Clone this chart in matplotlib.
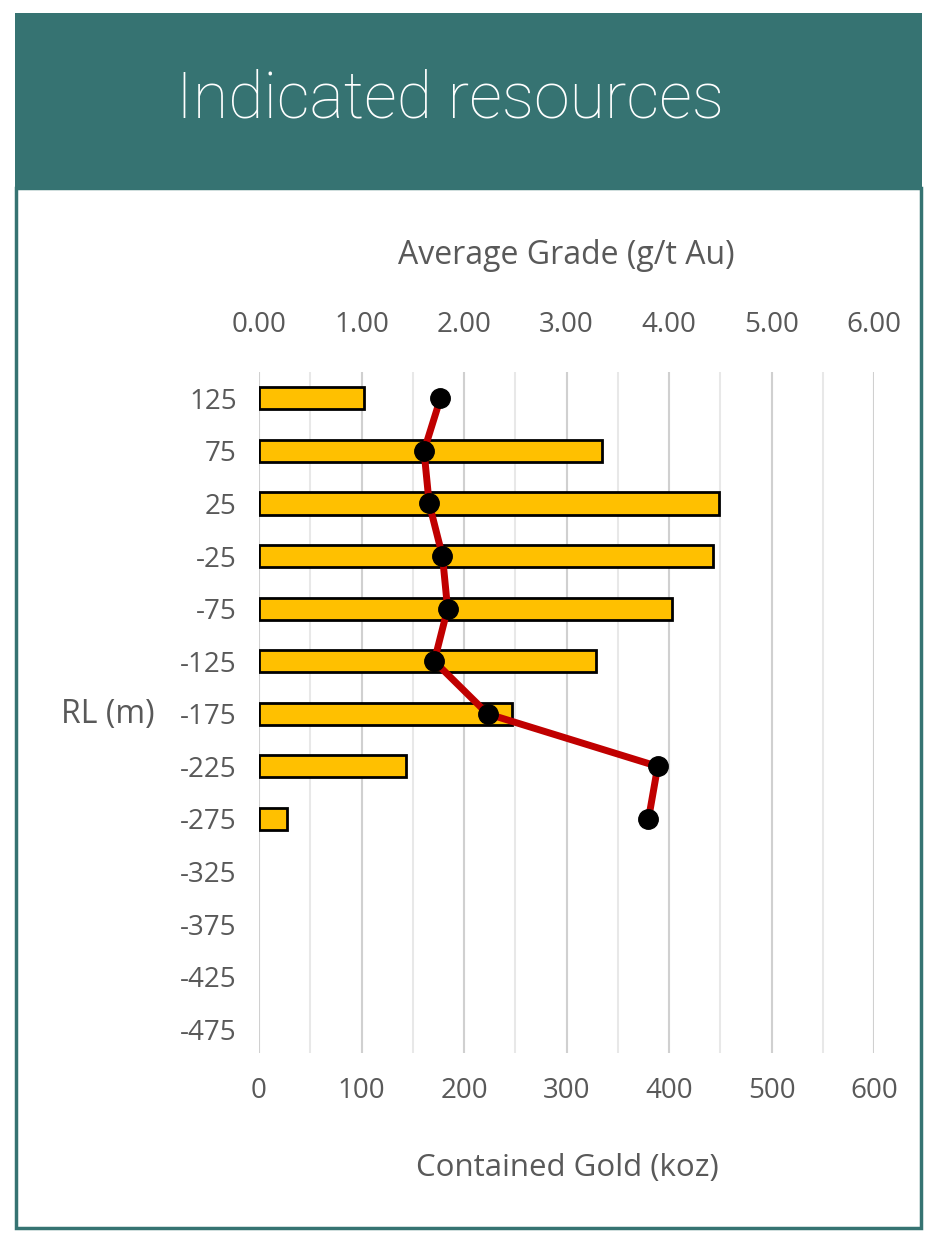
import matplotlib
matplotlib.use("Agg")
import matplotlib.pyplot as plt
from matplotlib.patches import Rectangle
import numpy as np

rl_labels = ["125", "75", "25", "-25", "-75", "-125", "-175", "-225", "-275",
             "-325", "-375", "-425", "-475"]
gold_koz = [102, 335, 449, 443, 403, 329, 247, 143, 27, np.nan, np.nan, np.nan, np.nan]
grade_gt = [1.77, 1.61, 1.66, 1.79, 1.84, 1.71, 2.23, 3.89, 3.80]
gold_ticks = [0, 100, 200, 300, 400, 500, 600]
grade_ticks = [0, 1, 2, 3, 4, 5, 6]

W, H = 927, 1233
fig = plt.figure(figsize=(W / 100, H / 100), dpi=100)
fig.patch.set_facecolor("white")

teal = "#367372"
txt = "#595959"
font = ["Open Sans", "DejaVu Sans"]

# header
fig.patches.append(Rectangle((15 / W, 1 - 188 / H), (922 - 15) / W, (188 - 13) / H,
                             transform=fig.transFigure, facecolor=teal, edgecolor="none", zorder=0))
# body box
fig.patches.append(Rectangle((16 / W, 1 - 1228 / H), (921 - 16) / W, (1228 - 188) / H,
                             transform=fig.transFigure, facecolor="white", edgecolor=teal,
                             linewidth=2.5, zorder=0))
fig.text(450 / W, 1 - 100 / H, "Indicated resources", color="white", fontsize=46.5,
         family=["Roboto", "DejaVu Sans"], fontweight="light", ha="center", va="center")

ax = fig.add_axes([259 / W, 1 - 1053 / H, (874 - 259) / W, (1053 - 372) / H])
ax.set_facecolor("none")
ax.set_zorder(2)
y = np.arange(len(rl_labels))

# grid lines
for v in range(0, 601, 50):
    c = "#d0d0d0" if v % 100 == 0 else "#e8e8e8"
    ax.axvline(v, color=c, linewidth=1.5, zorder=0)

ax.barh(y, gold_koz, height=0.42, color="#FFC000", edgecolor="black", linewidth=2, zorder=2)
ax.set_xlim(0, 600)
ax.set_ylim(12.45, -0.5)
ax.set_yticks(y)
ax.set_yticklabels(rl_labels)
ax.set_xticks(gold_ticks)
ax.set_xticklabels([str(t) for t in gold_ticks])
ax.tick_params(axis="both", length=0, labelsize=20, colors=txt)
ax.tick_params(axis="x", pad=17)
ax.tick_params(axis="y", pad=16)
for lab in ax.get_xticklabels() + ax.get_yticklabels():
    lab.set_family(font)
for s in ax.spines.values():
    s.set_visible(False)

ax2 = ax.twiny()
ax2.set_zorder(3)
ax2.set_facecolor("none")
ax2.set_xlim(0, 6)
ax2.plot(grade_gt, y[:len(grade_gt)], color="#C00000", linewidth=5, zorder=3,
         marker="o", markersize=14, markerfacecolor="black", markeredgecolor="black")
ax2.set_xticks(grade_ticks)
ax2.set_xticklabels([f"{t:.2f}" for t in grade_ticks])
ax2.tick_params(axis="x", length=0, labelsize=20, colors=txt, pad=24)
for lab in ax2.get_xticklabels():
    lab.set_family(font)
for s in ax2.spines.values():
    s.set_visible(False)

fig.text(566 / W, 1 - 255 / H, "Average Grade (g/t Au)", color=txt, fontsize=23,
         family=font, ha="center", va="center")
fig.text(567 / W, 1 - 1168 / H, "Contained Gold (koz)", color=txt, fontsize=22.5,
         family=font, ha="center", va="center")
fig.text(108 / W, 1 - 715 / H, "RL (m)", color=txt, fontsize=23,
         family=font, ha="center", va="center")

fig.savefig("out.png", dpi=100)
